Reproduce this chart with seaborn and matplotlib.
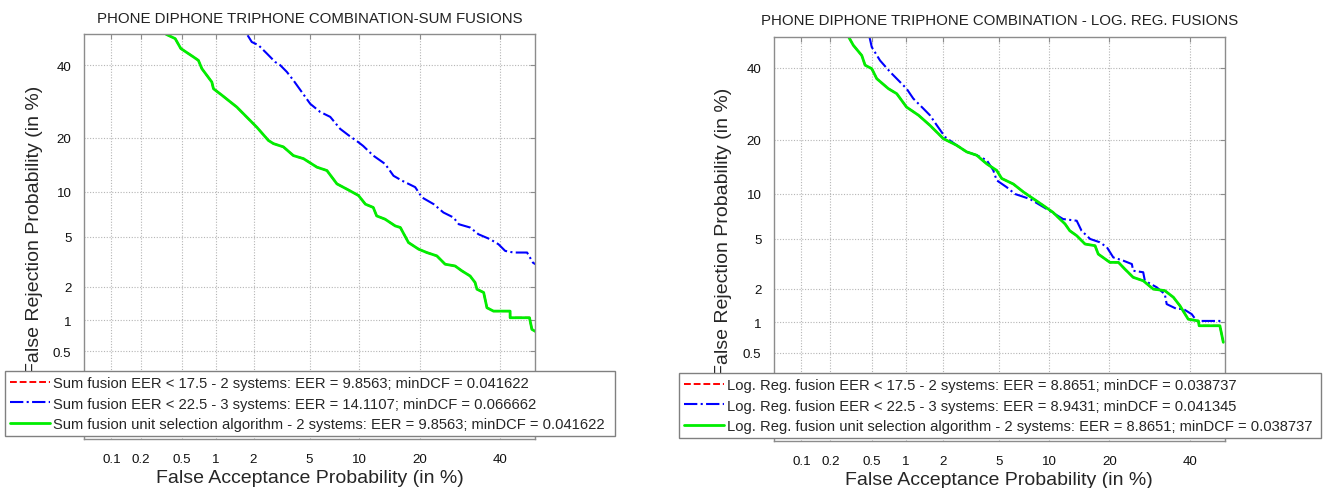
import matplotlib
matplotlib.use("Agg")
import numpy as np
import matplotlib.pyplot as plt
import seaborn as sns
from statistics import NormalDist

# ---------------- data (percent) ----------------
# Left panel: Sum fusions
sum_unit_fa = [0.356, 0.433, 0.488, 0.635, 0.703, 0.754, 0.919, 0.949, 1.12, 1.48, 1.88, 2.12, 2.59, 2.82,
               3.32, 3.9, 4.56, 5.58, 6.45, 7.42, 8.5, 9.89, 10.8, 11.9, 12.4, 13.7, 15.4, 16.3, 17.8, 19.8,
               21.5, 23.7, 25.6, 28, 29.7, 31.8, 33.1, 33.6, 35.4, 36.3, 38.1, 42.8, 42.8, 48.4, 49.1, 50.1]
sum_unit_fr = [50, 48.6, 45.4, 42.7, 41.6, 39, 34.9, 32.9, 31, 27.7, 24.2, 22.5, 19.4, 18.7, 18, 16.2, 15.6,
               14, 13.4, 11.2, 10.4, 9.5, 8.36, 7.96, 6.99, 6.64, 5.96, 5.81, 4.52, 4.03, 3.8, 3.58, 3.08, 2.98,
               2.72, 2.47, 2.18, 1.91, 1.79, 1.31, 1.22, 1.22, 1.06, 1.06, 0.822, 0.786]
sum_175_fa = sum_unit_fa
sum_175_fr = sum_unit_fr
sum_225_fa = [1.8, 1.94, 2.18, 2.52, 2.9, 3.15, 3.51, 3.9, 4.45, 5.05, 5.85, 6.76, 7.76, 8.68, 9.89, 10.5,
              11.9, 13.7, 15.1, 16.6, 19.1, 20.5, 23, 25.2, 27.6, 28.9, 31.8, 34, 37.2, 39.5, 41.4, 43.8,
              47.7, 49.4, 50.1]
sum_225_fr = [49.7, 47.5, 46.5, 43.8, 41.1, 40.1, 38, 35.4, 31.9, 28.6, 26.4, 25.1, 22.1, 20.6, 19, 18.2,
              16.2, 14.6, 12.5, 11.7, 10.7, 9.23, 8.36, 7.37, 6.82, 6.13, 5.81, 5.2, 4.78, 4.39, 3.91, 3.8,
              3.8, 3.17, 3.08]

# Right panel: Log. Reg. fusions
lr_unit_fa = [0.3, 0.335, 0.403, 0.433, 0.499, 0.554, 0.703, 0.833, 1.01, 1.27, 1.57, 2, 2.52, 2.98, 3.51,
              4.12, 4.8, 5.18, 6.14, 7.08, 8.12, 9.27, 10.5, 12.2, 12.9, 14, 15.4, 17.2, 17.8, 20.1, 21.9,
              23.3, 25.2, 27.6, 30.1, 33.1, 35.4, 37.2, 39.5, 42.4, 42.6, 48.6, 49.6]
lr_unit_fr = [50.1, 47.2, 43.9, 40.8, 39.7, 36.6, 33.6, 32.1, 28.3, 26.1, 23.5, 20.3, 18.8, 17.4, 16.7, 15,
              13.8, 12.4, 11.5, 10.3, 9.34, 8.45, 7.62, 6.35, 5.7, 5.25, 4.56, 4.43, 3.83, 3.3, 3.3, 2.92,
              2.5, 2.34, 1.99, 1.93, 1.69, 1.42, 1.07, 1.03, 0.928, 0.928, 0.64]
lr_175_fa = lr_unit_fa
lr_175_fr = lr_unit_fr
lr_225_fa = [0.474, 0.499, 0.593, 0.728, 0.86, 1.01, 1.15, 1.39, 1.57, 1.78, 2.06, 2.52, 2.98, 3.51, 4.12,
             4.56, 4.8, 5.58, 6.29, 7.76, 9.69, 11.9, 14, 14.8, 16.3, 18.1, 19.5, 20.8, 23, 24.9, 25.2, 27.6,
             28, 31, 33.1, 33.6, 36.3, 38.1, 40.5, 41.9, 49.6]
lr_225_fr = [50.1, 46.6, 42.3, 38.7, 36.1, 33.6, 30.7, 27.9, 26.1, 23.5, 20.7, 18.8, 17.4, 16.7, 15.7, 13.8,
             12.1, 11, 10, 9.3, 8.02, 6.87, 6.69, 5.7, 4.97, 4.7, 4.31, 3.61, 3.4, 3.2, 2.83, 2.75, 2.34,
             2.06, 1.8, 1.47, 1.33, 1.33, 1.19, 1.03, 1.03]

x_ticks = [0.1, 0.2, 0.5, 1, 2, 5, 10, 20, 40]
x_tick_labels = ["0.1", "0.2", "0.5", "1", "2", "5", "10", "20", "40"]
y_ticks = [0.5, 1, 2, 5, 10, 20, 40]
y_tick_labels = ["0.5", "1", "2", "5", "10", "20", "40"]
axis_limits = (0.05, 50)

titles = ["PHONE DIPHONE TRIPHONE COMBINATION-SUM FUSIONS",
          "PHONE DIPHONE TRIPHONE COMBINATION - LOG. REG. FUSIONS"]
left_labels = ["Sum fusion EER < 17.5 - 2 systems: EER = 9.8563; minDCF = 0.041622",
               "Sum fusion EER < 22.5 - 3 systems: EER = 14.1107; minDCF = 0.066662",
               "Sum fusion unit selection algorithm - 2 systems: EER = 9.8563; minDCF = 0.041622"]
right_labels = ["Log. Reg. fusion EER < 17.5 - 2 systems: EER = 8.8651; minDCF = 0.038737",
                "Log. Reg. fusion EER < 22.5 - 3 systems: EER = 8.9431; minDCF = 0.041345",
                "Log. Reg. fusion unit selection algorithm - 2 systems: EER = 8.8651; minDCF = 0.038737"]

# ---------------- style ----------------
sns.set_style("white")
plt.rcParams["font.family"] = ["Liberation Sans", "DejaVu Sans"]

_N = NormalDist()
_ppf = np.vectorize(_N.inv_cdf, otypes=[float])
_cdf = np.vectorize(_N.cdf, otypes=[float])


def probit_fwd(p):
    p = np.clip(np.asarray(p, dtype=float), 1e-7, 100 - 1e-7)
    return _ppf(p / 100.0)


def probit_inv(z):
    return _cdf(np.asarray(z, dtype=float)) * 100.0


fig = plt.figure(figsize=(13.28, 4.89), dpi=100)
ax_l = fig.add_axes([0.06325, 0.1002, 0.3396, 0.8276])
ax_r = fig.add_axes([0.5828, 0.0967, 0.3394, 0.8264])

grey = "#8c8c8c"


def draw(ax, series, labels, title, legend_box):
    ax.set_xscale("function", functions=(probit_fwd, probit_inv))
    ax.set_yscale("function", functions=(probit_fwd, probit_inv))
    styles = [("#ff0000", (0, (3.5, 1.5)), 1.4),
              ("#0000ff", "-.", 1.5),
              ("#00ee00", "-", 2.0)]
    for (xs, ys), (c, ls, lw), lab in zip(series, styles, labels):
        sns.lineplot(x=xs, y=ys, ax=ax, color=c, linestyle=ls, linewidth=lw,
                     estimator=None, sort=False, label=lab, legend=False)
    ax.set_xlim(*axis_limits)
    ax.set_ylim(*axis_limits)
    ax.set_xticks(x_ticks)
    ax.set_xticklabels(x_tick_labels)
    ax.set_yticks(y_ticks)
    ax.set_yticklabels(y_tick_labels)
    ax.minorticks_off()
    ax.grid(True, linestyle=(0, (1, 1.5)), color="#b5b5b5", linewidth=0.8)
    ax.tick_params(direction="in", length=3.5, width=0.8, color=grey,
                   top=True, right=True, labelsize=9.6, labelcolor="#111111")
    ax.tick_params(axis="x", pad=10)
    ax.tick_params(axis="y", pad=9)
    for sp in ax.spines.values():
        sp.set_color(grey)
        sp.set_linewidth(1.0)
        sp.set_visible(True)
    ax.set_xlabel("False Acceptance Probability (in %)", fontsize=14, labelpad=3)
    ax.set_ylabel("False Rejection Probability (in %)", fontsize=14)
    ax.yaxis.set_label_coords(-0.092, 0.52)
    ax.set_title(title, fontsize=10.8, pad=9, color="#222222")
    handles = ax.get_lines()[:3]
    leg = ax.legend(handles, labels, loc="upper left", bbox_to_anchor=legend_box,
                    bbox_transform=fig.transFigure, mode="expand", borderaxespad=0,
                    fontsize=10.6, handlelength=2.7, handletextpad=0.2, labelspacing=0.44,
                    borderpad=0.35, fancybox=False, framealpha=1, edgecolor="#808080")
    leg.get_frame().set_linewidth(1.0)
    leg.set_zorder(10)


draw(ax_l, [(sum_175_fa, sum_175_fr), (sum_225_fa, sum_225_fr), (sum_unit_fa, sum_unit_fr)],
     left_labels, titles[0], (0.00377, 0.1043, 0.4594, 0.135))
draw(ax_r, [(lr_175_fa, lr_175_fr), (lr_225_fa, lr_225_fr), (lr_unit_fa, lr_unit_fr)],
     right_labels, titles[1], (0.5113, 0.0991, 0.4834, 0.1361))

fig.savefig("out.png", dpi=100)
